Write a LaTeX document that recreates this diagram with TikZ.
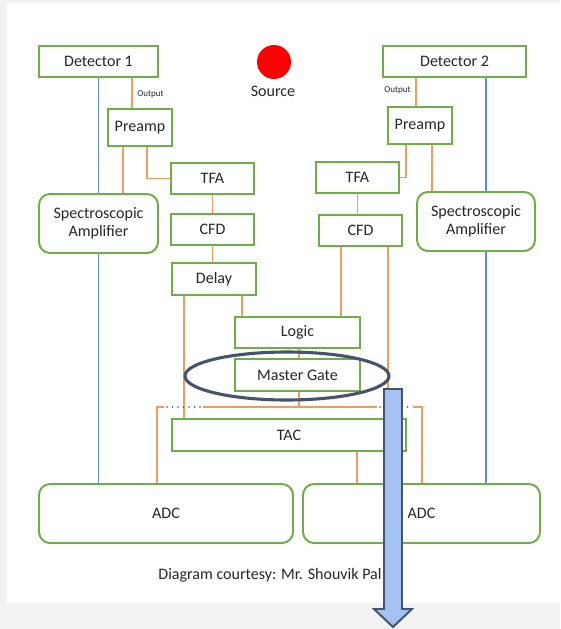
\documentclass[tikz,border=0pt]{standalone}
\usepackage{fontspec}
\setmainfont{Carlito}
\usetikzlibrary{positioning}
\definecolor{boxgreen}{HTML}{70AD47}
\definecolor{wireorange}{HTML}{F39A5C}
\definecolor{wireblue}{HTML}{5B8CDC}
\definecolor{slate}{HTML}{44546A}
\definecolor{arrowblue}{HTML}{A4C2F4}
\definecolor{txt}{HTML}{262626}
\newcommand{\px}{0.025cm}
\tikzset{
  box/.style={draw=boxgreen,line width=1.4pt,fill=white,text=txt,inner sep=0pt,
    font=\fontsize{11.4}{13}\selectfont,align=center},
  rbox/.style={box,rounded corners=11*\px},
  wire/.style={wireorange,line width=0.95pt},
  bluewire/.style={wireblue,line width=0.95pt},
  busdots/.style={slate,line width=1.3pt,line cap=round,dash pattern=on 0pt off 5.5*\px}
}
\begin{document}
\begin{tikzpicture}[x=\px,y=-\px]
\fill[black!5] (0,0) rectangle (560,629);
\fill[white] (7,3) rectangle (560,603);
\useasboundingbox (0,0) rectangle (560,629);
% boxes
\node[box,minimum width=119*\px,minimum height=31*\px] (det1) at (98.5,61.5) {Detector 1};
\node[box,minimum width=143*\px,minimum height=31*\px] (det2) at (454.5,61.5) {Detector 2};
\node[box,minimum width=64*\px,minimum height=37*\px] (pre1) at (140,127.5) {Preamp};
\node[box,minimum width=64*\px,minimum height=37*\px] (pre2) at (420,125.5) {Preamp};
\node[box,minimum width=83*\px,minimum height=31*\px] (tfa1) at (212.5,178.5) {TFA};
\node[box,minimum width=83*\px,minimum height=31*\px] (tfa2) at (357.5,177.5) {TFA};
\node[rbox,minimum width=119*\px,minimum height=59*\px] (sa1) at (98.5,223.5) {Spectroscopic\\Amplifier};
\node[rbox,minimum width=118*\px,minimum height=59*\px] (sa2) at (476,221.5) {Spectroscopic\\Amplifier};
\node[box,minimum width=83*\px,minimum height=31*\px] (cfd1) at (212.5,229.5) {CFD};
\node[box,minimum width=83*\px,minimum height=31*\px] (cfd2) at (360.5,230.5) {CFD};
\node[box,minimum width=84*\px,minimum height=32*\px] (delay) at (214,279) {Delay};
\node[box,minimum width=125*\px,minimum height=31*\px] (logic) at (297.5,332.5) {Logic};
\node[box,minimum width=125*\px,minimum height=32*\px] (mg) at (297.5,375) {Master Gate};
\node[box,minimum width=234*\px,minimum height=32*\px] (tac) at (289,435) {TAC};
\node[rbox,minimum width=254*\px,minimum height=59*\px] (adc1) at (166,513.5) {ADC};
\node[rbox,minimum width=237*\px,minimum height=59*\px] (adc2) at (421.5,513.5) {ADC};
\fill[red] (274,62) circle [radius=17];
\node[text=txt,font=\fontsize{11.4}{13}\selectfont] (src) at (273,91) {Source};
% signal wires
\draw[bluewire] (det1.south) -- (sa1.north);
\draw[bluewire] (sa1.south) -- (sa1.south |- adc1.north);
\draw[bluewire] (det2.south -| 486,0) -- (sa2.north -| 486,0);
\draw[bluewire] (sa2.south -| 486,0) -- (adc2.north -| 486,0);
\draw[wire] (det1.south -| 132,0) -- node[right,text=txt,font=\fontsize{6.4}{7}\selectfont,pos=0.55] {Output} (pre1.north -| 132,0);
\draw[wire] (det2.south -| 416,0) -- node[left,text=txt,font=\fontsize{6.4}{7}\selectfont,pos=0.45] {Output} (pre2.north -| 416,0);
\draw[wire] (pre1.south -| 123,0) -- (sa1.north -| 123,0);
\draw[wire] (pre1.south -| 147,0) |- (tfa1.west);
\draw[wire] (pre2.south -| 432,0) -- (sa2.north -| 432,0);
\draw[wire] (pre2.south -| 406,0) |- (tfa2.east);
\draw[wire] (tfa1.south) -- (cfd1.north);
\draw[wire] (tfa2.south) -- (tfa2.south |- cfd2.north);
\draw[wire] (cfd1.south) -- (cfd1.south |- delay.north);
\draw[wire] (delay.south -| 242,0) -- (logic.north -| 242,0);
\draw[wire] (delay.south -| 184,0) -- (tac.north -| 184,0);
\draw[wire] (cfd2.south -| 341,0) -- (logic.north -| 341,0);
\draw[wire] (cfd2.south -| 388,0) -- (tac.north -| 388,0);
\draw[wire] (logic.south -| 299,0) -- (mg.north -| 299,0);
% gate bus
\coordinate (busL) at (157,407);
\coordinate (busR) at (422,407);
\draw[wire] (mg.south -| 299,0) -- (299,407);
\draw[wire] (busL |- adc1.north) |- (164,407);
\draw[busdots] (167,407) -- (203,407);
\draw[wire] (203,407) -- (377,407);
\draw[busdots] (380,407) -- (412,407);
\draw[wire] (413,407) -| (busR |- adc2.north);
\draw[wire] (tac.south -| 357,0) -- (adc2.north -| 357,0);
% highlight
\draw[slate,line width=2.2pt] (287,376) ellipse [x radius=102,y radius=24];
\draw[slate,line width=1.4pt,fill=arrowblue] (384,389) -- (402,389) -- (402,609) -- (412,609)
  -- (393,627) -- (374,609) -- (384,609) -- cycle;
\node[text=txt,font=\fontsize{11.4}{13}\selectfont] (credit) at (270,575) {Diagram courtesy: Mr. Shouvik Pal};
\end{tikzpicture}
\end{document}
